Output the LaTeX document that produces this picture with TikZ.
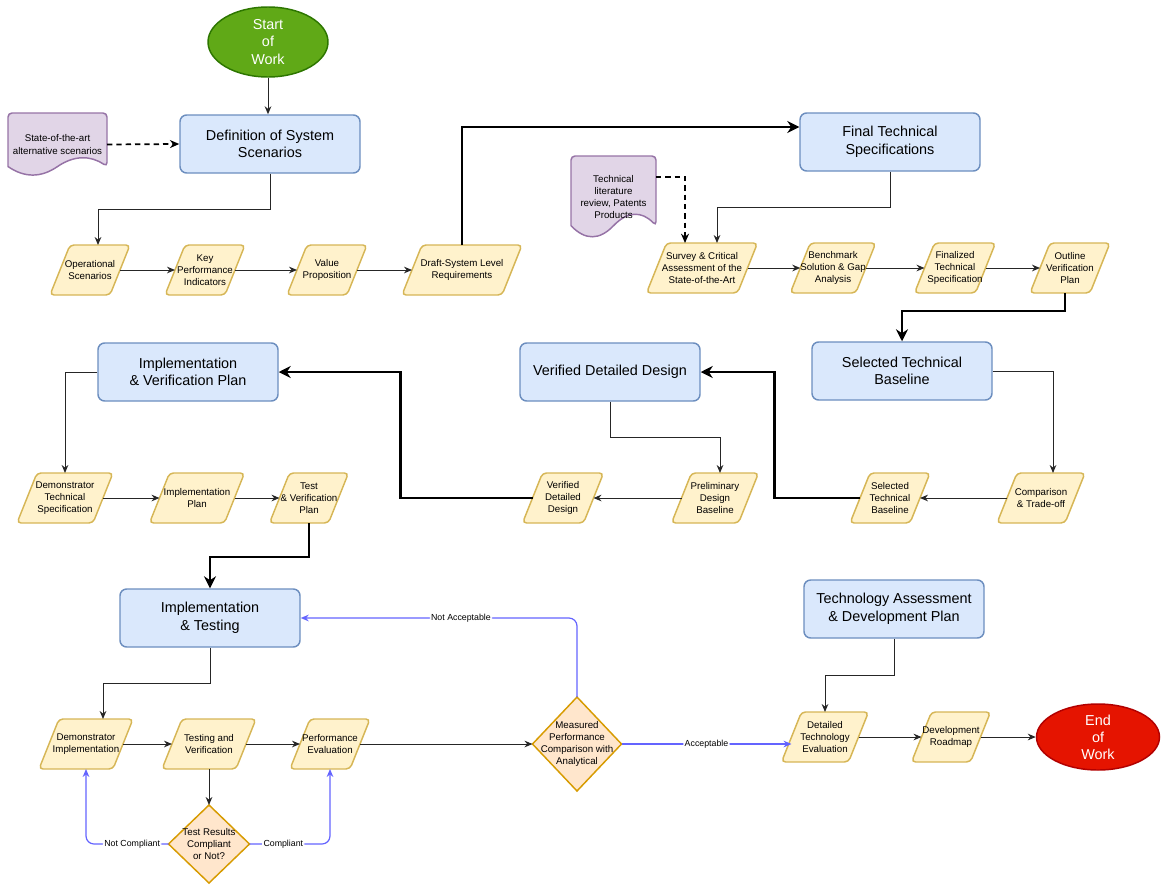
\documentclass[tikz,border=0pt]{standalone}
\usepackage{fontspec}
\setmainfont{Liberation Sans}
\usetikzlibrary{arrows.meta,shapes.geometric,calc,backgrounds}
\definecolor{bfill}{HTML}{DAE8FC}
\definecolor{bdraw}{HTML}{6C8EBF}
\definecolor{yfill}{HTML}{FFF2CC}
\definecolor{ydraw}{HTML}{D6B656}
\definecolor{pfill}{HTML}{E1D5E7}
\definecolor{pdraw}{HTML}{9673A6}
\definecolor{ofill}{HTML}{FFE6CC}
\definecolor{odraw}{HTML}{D79B00}
\definecolor{gfill}{HTML}{60A917}
\definecolor{gdraw}{HTML}{2D7600}
\definecolor{rfill}{HTML}{E51400}
\definecolor{rdraw}{HTML}{B20000}
\definecolor{bluec}{RGB}{100,100,255}
\newcommand\pxu{0.75pt}
\newcommand\docshape[1]{%
  \draw[docshape] let \p1=(#1.north west), \p2=(#1.south east), \n1={\y1-\y2}, \n2={\x2-\x1} in
   [rounded corners=3pt] (\x1,{\y1-0.85*\n1}) -- (\x1,\y1) -- (\x2,\y1) -- (\x2,{\y1-0.85*\n1}) [sharp corners]
   .. controls ({\x1+0.8333*\n2},{\y1-0.67*\n1}) and ({\x1+0.6667*\n2},{\y1-0.67*\n1}) .. ({\x1+0.5*\n2},{\y1-0.85*\n1})
   .. controls ({\x1+0.3333*\n2},{\y1-1.03*\n1}) and ({\x1+0.1667*\n2},{\y1-1.03*\n1}) .. (\x1,{\y1-0.85*\n1}) -- cycle;}
\begin{document}
\begin{tikzpicture}[x=0.75pt,y=-0.75pt,
  box/.style={rectangle, rounded corners=5pt, draw=bdraw, fill=bfill, line width=1.1pt,
    minimum width=180*\pxu, minimum height=58*\pxu, align=center, inner sep=2pt,
    font=\fontsize{10.8}{13.2}\selectfont},
  para/.style={rectangle, inner sep=0pt, outer sep=0pt, minimum height=50*\pxu, align=center,
    font=\fontsize{7.3}{9.2}\selectfont},
  parashape/.style={draw=ydraw, fill=yfill, line width=1.1pt, rounded corners=3pt},
  dia/.style={rectangle, inner sep=0pt, outer sep=0pt, align=center, font=\fontsize{7.3}{9.2}\selectfont},
  diashape/.style={draw=odraw, fill=ofill, line width=1.1pt},
  docn/.style={rectangle, inner sep=0pt, outer sep=0pt, align=center, font=\fontsize{7.3}{9.2}\selectfont},
  docshape/.style={draw=pdraw, fill=pfill, line width=1.1pt},
  term/.style={ellipse, inner sep=0pt, line width=1.1pt, text=white, align=center,
    font=\fontsize{10.8}{12.8}\selectfont},
  conn/.style={draw=black!85, line width=0.75pt, -{Stealth[length=6pt,width=5pt]}},
  thk/.style={draw=black, line width=2.2pt, -{Stealth[length=9pt,width=9pt]}},
  blu/.style={draw=bluec, line width=0.9pt, rounded corners=6pt, -{Stealth[length=6pt,width=5pt]}},
  dsh/.style={draw=black, line width=1.3pt, dash pattern=on 4pt off 3pt, -{Stealth[length=7pt,width=6pt]}},
  lbl/.style={fill=white, inner sep=1pt, text=black, font=\fontsize{6.6}{8}\selectfont}]
\useasboundingbox (0,0) rectangle (1170,893);

% terminals and boxes
\node[term, fill=gfill, draw=gdraw, minimum width=120*\pxu, minimum height=70*\pxu] (start) at (268,42) {Start\\of\\Work};
\node[box] (def) at (270,144) {Definition of System\\Scenarios};
\node[docn, minimum width=99*\pxu, minimum height=63*\pxu] (doc1) at (57.5,144.5) {State-of-the-art\\alternative scenarios};
\node[box] (fts) at (890,142) {Final Technical\\Specifications};
\node[docn, minimum width=85*\pxu, minimum height=82*\pxu] (doc2) at (613.5,197) {Technical\\literature\\review, Patents\\Products};
\node[box] (stb) at (902,371) {Selected Technical\\Baseline};
\node[box] (vdd) at (610,372) {Verified Detailed Design};
\node[box] (ivp) at (188,372) {Implementation\\\& Verification Plan};
\node[box] (it) at (210,618) {Implementation\\\& Testing};
\node[box] (tadp) at (894,609) {Technology Assessment\\\& Development Plan};
\node[term, fill=rfill, draw=rdraw, minimum width=123*\pxu, minimum height=66*\pxu] (end) at (1098,737) {End\\of\\Work};

% parallelograms
\node[para, minimum width=60*\pxu] (op) at (90,270) {Operational\\Scenarios};
\node[para, minimum width=60*\pxu] (kpi) at (205,270) {Key\\Performance\\Indicators};
\node[para, minimum width=60*\pxu] (vp) at (327,270) {Value\\Proposition};
\node[para, minimum width=100*\pxu] (draft) at (462,270) {Draft-System Level\\Requirements};
\node[para, minimum width=91*\pxu] (survey) at (702,268) {Survey \& Critical\\Assessment of the\\State-of-the-Art};
\node[para, minimum width=60*\pxu] (bench) at (833,268) {Benchmark\\Solution \& Gap\\Analysis};
\node[para, minimum width=61*\pxu] (fin) at (955,268) {Finalized\\Technical\\Specification};
\node[para, minimum width=60*\pxu] (outl) at (1070,268) {Outline\\Verification\\Plan};
\node[para, minimum width=76*\pxu] (dts) at (65,498) {Demonstrator\\Technical\\Specification};
\node[para, minimum width=75*\pxu] (ip) at (197,498) {Implementation\\Plan};
\node[para, minimum width=59*\pxu] (tvp) at (309,498) {Test\\\& Verification\\Plan};
\node[para, minimum width=61*\pxu] (vddp) at (563,498) {Verified\\Detailed\\Design};
\node[para, minimum width=67*\pxu] (prelim) at (715,498) {Preliminary\\Design\\Baseline};
\node[para, minimum width=60*\pxu] (stbp) at (890,498) {Selected\\Technical\\Baseline};
\node[para, minimum width=68*\pxu] (comp) at (1041,498) {Comparison\\\& Trade-off};
\node[para, minimum width=74*\pxu] (di) at (86,744) {Demonstrator\\Implementation};
\node[para, minimum width=74*\pxu] (tv) at (209,744) {Testing and\\Verification};
\node[para, minimum width=60*\pxu] (pe) at (330,744) {Performance\\Evaluation};
\node[para, minimum width=67*\pxu] (dte) at (825,737) {Detailed\\Technology\\Evaluation};
\node[para, minimum width=59*\pxu] (dr) at (951,737) {Development\\Roadmap};

% diamonds
\node[dia, minimum width=81*\pxu, minimum height=78*\pxu] (tr) at (209,844) {Test Results\\Compliant\\or Not?};
\node[dia, minimum width=89*\pxu, minimum height=94*\pxu] (mp) at (577,744) {Measured\\Performance\\Comparison with\\Analytical};

% shapes behind the texts
\begin{scope}[on background layer]
\foreach \q in {op,kpi,vp,draft,survey,bench,fin,outl,dts,ip,tvp,vddp,prelim,stbp,comp,di,tv,pe,dte,dr}{
  \draw[parashape] ($(\q.south west)+(-10,0)$) -- ($(\q.south east)+(-10,0)$) -- ($(\q.north east)+(10,0)$) -- ($(\q.north west)+(10,0)$) -- cycle;}
\foreach \q in {tr,mp}{
  \draw[diashape] (\q.north) -- (\q.east) -- (\q.south) -- (\q.west) -- cycle;}
\docshape{doc1}
\docshape{doc2}
\end{scope}

% connectors
\draw[conn] (start.south) -- (start.south |- def.north);
\draw[dsh] (doc1.east) -- (def.west);
\draw[conn] (def.south) -- ++(0,36) -| ($(op.north)+(8,0)$);
\draw[conn] (op.east) -- (kpi.west);
\draw[conn] (kpi.east) -- (vp.west);
\draw[conn] (vp.east) -- (draft.west);
\draw[thk] (draft.north) |- ($(fts.west)+(0,-15)$);
\draw[dsh] ($(doc2.east)+(0,-20)$) -| ($(survey.north)+(-17,0)$);
\draw[conn] (fts.south) -- ++(0,36) -| ($(survey.north)+(15,0)$);
\draw[conn] (survey.east) -- (bench.west);
\draw[conn] (bench.east) -- (fin.west);
\draw[conn] (fin.east) -- (outl.west);
\draw[thk] ($(outl.south)+(-5,0)$) -- ++(0,18) -| (stb.north);
\draw[conn] (stb.east) -| ($(comp.north)+(12,0)$);
\draw[conn] (comp.west) -- (stbp.east);
\draw[thk] (stbp.west) -| ($(vdd.east)+(74,0)$) -- (vdd.east);
\draw[conn] (vdd.south) -- ++(0,36) -| ($(prelim.north)+(5,0)$);
\draw[conn] (prelim.west) -- (vddp.east);
\draw[thk] (vddp.west) -| ($(ivp.east)+(122,0)$) -- (ivp.east);
\draw[conn] (ivp.west) -| (dts.north);
\draw[conn] (dts.east) -- (ip.west);
\draw[conn] (ip.east) -- (tvp.west);
\draw[thk] (tvp.south) -- ++(0,34) -| (it.north);
\draw[conn] (it.south) -- ++(0,36) -| ($(di.north)+(17,0)$);
\draw[conn] (di.east) -- (tv.west);
\draw[conn] (tv.east) -- (pe.west);
\draw[conn] (tv.south) -- (tr.north);
\draw[blu] (tr.west) -| node[lbl, pos=0.22] {Not Compliant} (di.south);
\draw[blu] (tr.east) -| node[lbl, pos=0.21] {Compliant} (pe.south);
\draw[conn] (pe.east) -- (mp.west);
\draw[blu] (mp.north) |- node[lbl, pos=0.71] {Not Acceptable} (it.east);
\draw[blu] (mp.east) -- node[lbl] {Acceptable} (mp.east -| dte.west);
\draw[conn] (tadp.south) -- ++(0,37) -| (dte.north);
\draw[conn] (dte.east) -- (dr.west);
\draw[conn] (dr.east) -- (end.west);
\end{tikzpicture}
\end{document}
